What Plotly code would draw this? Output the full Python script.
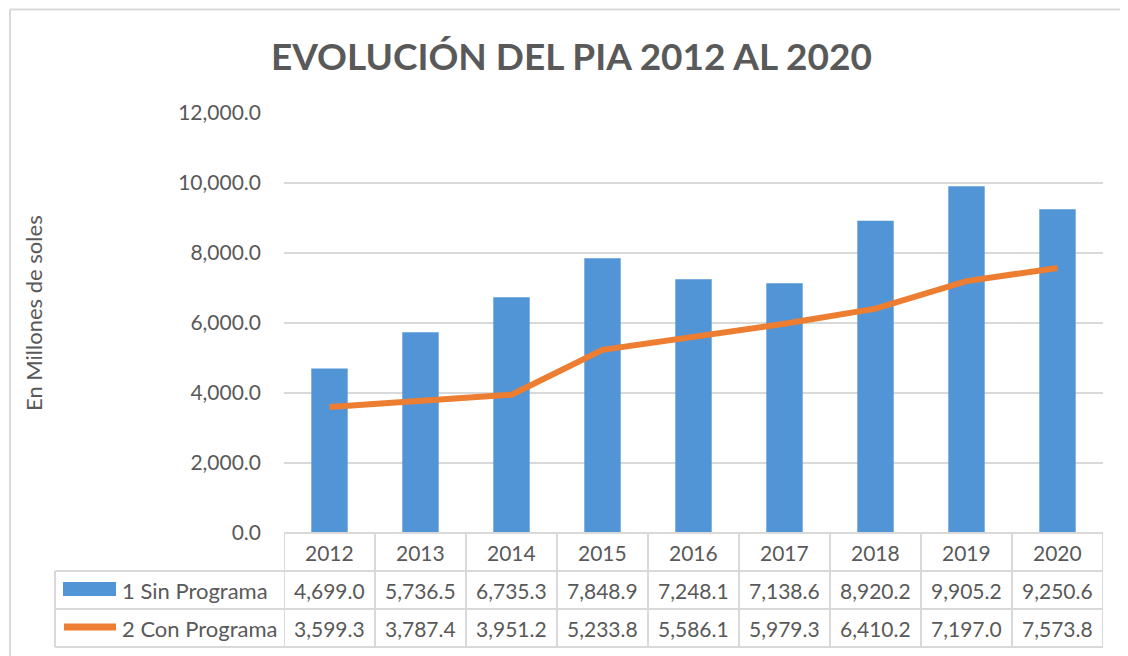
import plotly.graph_objects as go

years = ["2012", "2013", "2014", "2015", "2016", "2017", "2018", "2019", "2020"]
sin_programa = [4699.0, 5736.5, 6735.3, 7848.9, 7248.1, 7138.6, 8920.2, 9905.2, 9250.6]
con_programa = [3599.3, 3787.4, 3951.2, 5233.8, 5586.1, 5979.3, 6410.2, 7197.0, 7573.8]
series_names = ["1 Sin Programa", "2 Con Programa"]
title_text = "EVOLUCIÓN DEL PIA 2012 AL 2020"
y_title = "En Millones de soles"
y_ticks = [0, 2000, 4000, 6000, 8000, 10000, 12000]

# the page body adds an 8px margin; work in window pixels and convert
OFF = 8
WIN_W, WIN_H = 1128, 656
W, H = WIN_W - OFF, WIN_H - OFF
PL, PR, PT, PB = 284, 1103, 113, 533  # plot area in window pixels
L, T = PL - OFF, PT - OFF
R, B = W - (PR - OFF), H - (PB - OFF)
PW, PH = PR - PL, PB - PT

def px_x(px):
    return (px - PL) / PW

def px_y(py):
    return (PB - py) / PH

FONT = "Lato"
TXT = "#595959"
GRID = "#d9d9d9"
BLUE = "#5295d6"
ORANGE = "#ed7d31"
FS = 21

idx = list(range(len(years)))

fig = go.Figure()
fig.add_trace(go.Bar(x=idx, y=sin_programa, width=0.4, marker=dict(color=BLUE, line=dict(width=0)),
                     name=series_names[0]))
fig.add_trace(go.Scatter(x=idx, y=con_programa, mode="lines", line=dict(color=ORANGE, width=6),
                         name=series_names[1]))

shapes = []
annotations = []

# outer frame (top and left edges visible)
shapes.append(dict(type="line", xref="paper", yref="paper", x0=px_x(10), x1=px_x(1130),
                   y0=px_y(9.5), y1=px_y(9.5), line=dict(color=GRID, width=2), layer="below"))
shapes.append(dict(type="line", xref="paper", yref="paper", x0=px_x(10), x1=px_x(10),
                   y0=px_y(9.5), y1=px_y(660), line=dict(color=GRID, width=2), layer="below"))

# table geometry (window pixel rows)
row_top, r1, r2, r3 = 533, 571, 609, 647
tbl_left = 55
shapes.append(dict(type="line", xref="paper", yref="paper", x0=0, x1=1, y0=px_y(row_top), y1=px_y(row_top),
                   line=dict(color=GRID, width=2)))
for ry in (r1, r2, r3):
    shapes.append(dict(type="line", xref="paper", yref="paper", x0=px_x(tbl_left), x1=1, y0=px_y(ry), y1=px_y(ry),
                       line=dict(color=GRID, width=2)))
for k in range(len(years) + 1):
    shapes.append(dict(type="line", xref="x", yref="paper", x0=k - 0.5, x1=k - 0.5,
                       y0=px_y(row_top), y1=px_y(r3), line=dict(color=GRID, width=2)))
shapes.append(dict(type="line", xref="paper", yref="paper", x0=px_x(tbl_left), x1=px_x(tbl_left),
                   y0=px_y(r1), y1=px_y(r3), line=dict(color=GRID, width=2)))

# legend keys
shapes.append(dict(type="rect", xref="paper", yref="paper", x0=px_x(63), x1=px_x(116),
                   y0=px_y(596), y1=px_y(582), fillcolor=BLUE, line=dict(width=0)))
shapes.append(dict(type="line", xref="paper", yref="paper", x0=px_x(64), x1=px_x(116),
                   y0=px_y(627), y1=px_y(627), line=dict(color=ORANGE, width=7)))

rows_c = [(row_top + r1) / 2, (r1 + r2) / 2, (r2 + r3) / 2]
for i, yr in enumerate(years):
    annotations.append(dict(x=i, xref="x", y=px_y(rows_c[0]), yref="paper", text=yr, showarrow=False,
                            font=dict(family=FONT, size=FS, color=TXT), xanchor="center", yanchor="middle"))
    annotations.append(dict(x=i, xref="x", y=px_y(rows_c[1]), yref="paper", text=f"{sin_programa[i]:,.1f}",
                            showarrow=False, font=dict(family=FONT, size=FS, color=TXT),
                            xanchor="center", yanchor="middle"))
    annotations.append(dict(x=i, xref="x", y=px_y(rows_c[2]), yref="paper", text=f"{con_programa[i]:,.1f}",
                            showarrow=False, font=dict(family=FONT, size=FS, color=TXT),
                            xanchor="center", yanchor="middle"))
for j, nm in enumerate(series_names):
    annotations.append(dict(x=px_x(120), xref="paper", y=px_y(rows_c[j + 1]), yref="paper", text=nm,
                            showarrow=False, font=dict(family=FONT, size=22, color=TXT),
                            xanchor="left", yanchor="middle"))

annotations.append(dict(x=px_x(33), xref="paper", y=px_y(313), yref="paper", text=y_title, textangle=-90,
                        showarrow=False, font=dict(family=FONT, size=22, color=TXT),
                        xanchor="center", yanchor="middle"))
annotations.append(dict(x=px_x(571), xref="paper", y=px_y(55), yref="paper", text=f"<b>{title_text}</b>",
                        showarrow=False, font=dict(family=FONT, size=37, color=TXT),
                        xanchor="center", yanchor="middle"))

fig.update_layout(
    width=W, height=H,
    margin=dict(l=L, r=R, t=T, b=B, pad=0),
    paper_bgcolor="white", plot_bgcolor="white",
    showlegend=False,
    shapes=shapes, annotations=annotations,
    xaxis=dict(range=[-0.5, len(years) - 0.5], showticklabels=False, showgrid=False, zeroline=False,
               showline=False, ticks=""),
    yaxis=dict(range=[0, 12000], tickvals=y_ticks, tickformat=",.1f", showgrid=True, gridcolor=GRID,
               gridwidth=1.5, zeroline=False, showline=False, ticks="", ticklabelstandoff=22,
               tickfont=dict(family=FONT, size=FS, color=TXT)),
    bargap=0.6,
)

fig.write_html("out.html")
